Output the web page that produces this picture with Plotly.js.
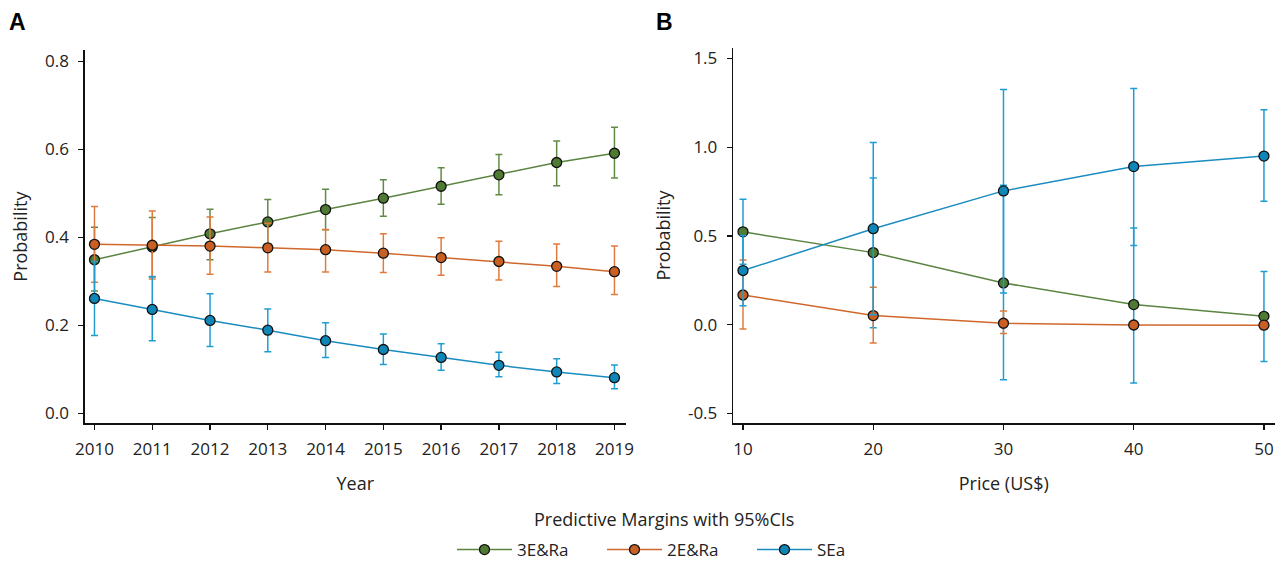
<!DOCTYPE html>
<html>
<head>
<meta charset="utf-8">
<script src="https://cdn.plot.ly/plotly-3.0.1.min.js"></script>
<style>html,body{margin:0;padding:0;background:#fff;}#chart{width:1286px;height:561px;}</style>
</head>
<body>
<div id="chart"></div>
<script>
// Panel A: by year
const years = [2010, 2011, 2012, 2013, 2014, 2015, 2016, 2017, 2018, 2019];
const a3E_mean = [0.349, 0.378, 0.408, 0.435, 0.463, 0.489, 0.516, 0.542, 0.570, 0.591];
const a3E_lo   = [0.278, 0.310, 0.349, 0.384, 0.417, 0.448, 0.475, 0.497, 0.517, 0.535];
const a3E_hi   = [0.423, 0.445, 0.464, 0.486, 0.509, 0.531, 0.558, 0.588, 0.619, 0.650];
const a2E_mean = [0.384, 0.382, 0.380, 0.376, 0.372, 0.364, 0.354, 0.345, 0.334, 0.322];
const a2E_lo   = [0.298, 0.305, 0.316, 0.321, 0.321, 0.320, 0.314, 0.303, 0.288, 0.270];
const a2E_hi   = [0.470, 0.460, 0.446, 0.432, 0.418, 0.408, 0.399, 0.391, 0.385, 0.380];
const aSE_mean = [0.261, 0.236, 0.211, 0.189, 0.165, 0.145, 0.127, 0.109, 0.094, 0.081];
const aSE_lo   = [0.177, 0.165, 0.152, 0.140, 0.127, 0.111, 0.098, 0.083, 0.068, 0.056];
const aSE_hi   = [0.345, 0.311, 0.272, 0.237, 0.206, 0.180, 0.158, 0.139, 0.124, 0.110];

// Panel B: by price
const prices = [10, 20, 30, 40, 50];
const b3E_mean = [0.523, 0.406, 0.235, 0.113, 0.047];
const b3E_lo   = [0.340, -0.017, -0.310, -0.329, -0.207];
const b3E_hi   = [0.707, 0.826, 0.786, 0.545, 0.299];
const b2E_mean = [0.167, 0.051, 0.008, -0.002, -0.003];
const b2E_lo   = [-0.024, -0.103, -0.050, -0.008, -0.008];
const b2E_hi   = [0.365, 0.211, 0.077, 0.004, 0.002];
const bSE_mean = [0.305, 0.541, 0.754, 0.891, 0.950];
const bSE_lo   = [0.107, 0.056, 0.179, 0.446, 0.696];
const bSE_hi   = [0.503, 1.027, 1.325, 1.331, 1.211];

const seriesNames = ['3E&Ra', '2E&Ra', 'SEa'];
const lineCol = ['#5b8441', '#d0672c', '#1a8cc0'];
const markCol = ['#4f7a33', '#c95f22', '#0f86b8'];
const errCol  = ['#5f8c45', '#e07b3e', '#1f9dd2'];

function up(mean, hi) { return hi.map((h, i) => h - mean[i]); }
function dn(mean, lo) { return lo.map((l, i) => mean[i] - l); }

function tr(x, mean, lo, hi, k, xa, ya, show, ecol) {
  return {
    type: 'scatter', mode: 'lines+markers', x: x, y: mean,
    name: seriesNames[k], showlegend: show,
    xaxis: xa, yaxis: ya,
    line: {color: lineCol[k], width: 1.5},
    marker: {size: 10, color: markCol[k], line: {color: '#111', width: 1.3}},
    error_y: {type: 'data', symmetric: false, array: up(mean, hi), arrayminus: dn(mean, lo),
              color: ecol, thickness: 1.5, width: 3.5}
  };
}

const data = [
  tr(years, a3E_mean, a3E_lo, a3E_hi, 0, 'x', 'y', true, errCol[0]),
  tr(years, a2E_mean, a2E_lo, a2E_hi, 1, 'x', 'y', true, errCol[1]),
  tr(years, aSE_mean, aSE_lo, aSE_hi, 2, 'x', 'y', true, errCol[2]),
  tr(prices, b3E_mean, b3E_lo, b3E_hi, 0, 'x2', 'y2', false, errCol[2]),
  tr(prices, b2E_mean, b2E_lo, b2E_hi, 1, 'x2', 'y2', false, errCol[1]),
  tr(prices, bSE_mean, bSE_lo, bSE_hi, 2, 'x2', 'y2', false, errCol[2])
];

const W = 1286, H = 561, MB = 45;
const PH = H - MB;               // paper height (top margin 0)
const py = p => (PH - p) / PH;   // page pixel y -> paper fraction
const FAM = '"Open Sans", Lato, sans-serif';
const tickFont = {family: FAM, size: 17, color: '#222'};
const titleFont = {family: FAM, size: 18, color: '#222'};
const axBase = {
  showgrid: false, zeroline: false, showline: true, linecolor: '#111', linewidth: 1.3,
  ticks: 'outside', ticklen: 5, tickwidth: 1.3, tickcolor: '#111',
  tickfont: tickFont, automargin: false, mirror: false
};

const layout = {
  width: W, height: H,
  margin: {l: 0, r: 0, t: 0, b: MB, autoexpand: false},
  paper_bgcolor: '#fff', plot_bgcolor: '#fff',
  showlegend: true,
  xaxis: Object.assign({}, axBase, {
    domain: [84.6 / W, 626 / W], anchor: 'y', range: [2009.829, 2019.2],
    tickvals: years, ticktext: years.map(String), ticklabelstandoff: 5,
    title: {text: 'Year', font: titleFont, standoff: 18}
  }),
  yaxis: Object.assign({}, axBase, {
    domain: [py(423.3), py(50)], anchor: 'x', range: [-0.0227, 0.8257],
    tickvals: [0, 0.2, 0.4, 0.6, 0.8], ticktext: ['0.0', '0.2', '0.4', '0.6', '0.8'],
    ticklabelstandoff: 6,
    title: {text: 'Probability', font: titleFont, standoff: 12}
  }),
  xaxis2: Object.assign({}, axBase, {
    domain: [733 / W, 1274.5 / W], anchor: 'y2', range: [9.232, 50.81],
    tickvals: prices, ticktext: prices.map(String), ticklabelstandoff: 5,
    title: {text: 'Price (US$)', font: titleFont, standoff: 18}
  }),
  yaxis2: Object.assign({}, axBase, {
    domain: [py(423.3), py(47.7)], anchor: 'x2', range: [-0.556, 1.561],
    tickvals: [-0.5, 0, 0.5, 1.0, 1.5], ticktext: ['-0.5', '0.0', '0.5', '1.0', '1.5'],
    ticklabelstandoff: 6,
    title: {text: 'Probability', font: titleFont, standoff: 12}
  }),
  legend: {
    orientation: 'h', x: 452 / W, xanchor: 'left', y: py(550), yanchor: 'middle',
    font: {family: FAM, size: 17, color: '#222'},
    entrywidth: 80, entrywidthmode: 'pixels',
    itemwidth: 55, tracegroupgap: 0, bgcolor: 'rgba(0,0,0,0)'
  },
  annotations: [
    {text: 'Predictive Margins with 95%CIs', xref: 'paper', yref: 'paper',
     x: 664 / W, y: py(519), xanchor: 'center', yanchor: 'middle', showarrow: false,
     font: {family: FAM, size: 18, color: '#222'}},
    {text: '<b>A</b>', xref: 'paper', yref: 'paper', x: 17 / W, y: py(22),
     xanchor: 'center', yanchor: 'middle', showarrow: false,
     font: {family: '"Liberation Sans", Arial, sans-serif', size: 23, color: '#000'}},
    {text: '<b>B</b>', xref: 'paper', yref: 'paper', x: 664 / W, y: py(22),
     xanchor: 'center', yanchor: 'middle', showarrow: false,
     font: {family: '"Liberation Sans", Arial, sans-serif', size: 23, color: '#000'}}
  ]
};

Plotly.newPlot('chart', data, layout, {displayModeBar: false, staticPlot: true});
</script>
</body>
</html>
